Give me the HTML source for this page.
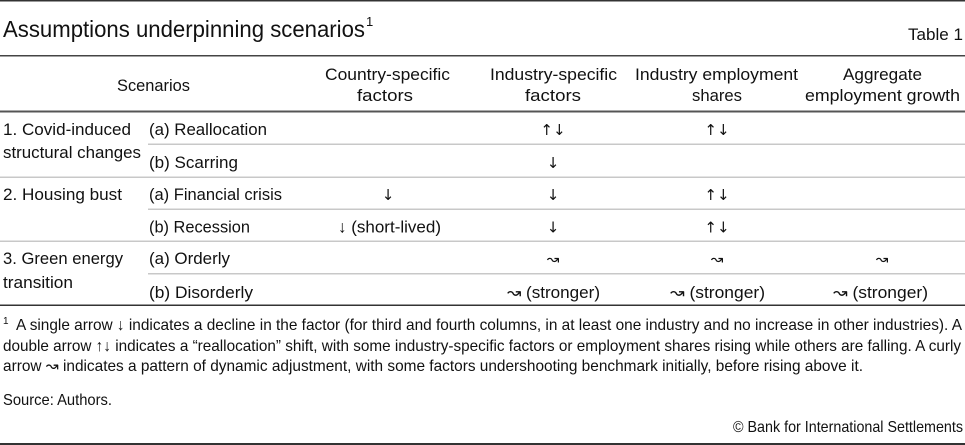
<!DOCTYPE html>
<html>
<head>
<meta charset="utf-8">
<style>
  html, body { margin: 0; padding: 0; background: #fff; }
  body { width: 965px; height: 445px; overflow: hidden; }
  svg { display: block; }
  text { font-family: "Liberation Sans", "DejaVu Sans", sans-serif; fill: #111; }
  .b { font-size: 17px; }
  .f { font-size: 16px; }
  .a { font-family: "DejaVu Sans", "Liberation Sans", sans-serif; font-size: 15px; }
</style>
</head>
<body>
<svg width="965" height="445" viewBox="0 0 965 445" xmlns="http://www.w3.org/2000/svg">
  <!-- rules -->
  <rect x="0" y="0" width="965" height="1.5" fill="#333"/>
  <rect x="0" y="55" width="965" height="1.5" fill="#444"/>
  <rect x="0" y="110.5" width="965" height="2" fill="#555"/>
  <rect x="148" y="143.5" width="817" height="1.5" fill="#c8c8c8"/>
  <rect x="0" y="176.5" width="965" height="1.5" fill="#c8c8c8"/>
  <rect x="148" y="208.5" width="817" height="1.5" fill="#c8c8c8"/>
  <rect x="0" y="240.5" width="965" height="1.5" fill="#c8c8c8"/>
  <rect x="148" y="273" width="817" height="1.5" fill="#c8c8c8"/>
  <rect x="0" y="304.5" width="965" height="1.5" fill="#333"/>
  <rect x="0" y="443" width="965" height="2" fill="#333"/>

  <!-- title -->
  <text x="3" y="37" style="font-size:23px" textLength="362" lengthAdjust="spacingAndGlyphs">Assumptions underpinning scenarios</text>
  <text x="366" y="26" style="font-size:13px">1</text>
  <text x="908" y="40" class="b" textLength="55" lengthAdjust="spacingAndGlyphs">Table 1</text>

  <!-- header -->
  <text x="117" y="91" class="b" textLength="73" lengthAdjust="spacingAndGlyphs">Scenarios</text>
  <text x="325" y="80" class="b" textLength="125" lengthAdjust="spacingAndGlyphs">Country-specific</text>
  <text x="357" y="101" class="b" textLength="56" lengthAdjust="spacingAndGlyphs">factors</text>
  <text x="490" y="80" class="b" textLength="127" lengthAdjust="spacingAndGlyphs">Industry-specific</text>
  <text x="525" y="101" class="b" textLength="56" lengthAdjust="spacingAndGlyphs">factors</text>
  <text x="635" y="80" class="b" textLength="163" lengthAdjust="spacingAndGlyphs">Industry employment</text>
  <text x="692" y="101" class="b" textLength="50" lengthAdjust="spacingAndGlyphs">shares</text>
  <text x="843" y="80" class="b" textLength="79" lengthAdjust="spacingAndGlyphs">Aggregate</text>
  <text x="805" y="101" class="b" textLength="155" lengthAdjust="spacingAndGlyphs">employment growth</text>

  <!-- row labels -->
  <text x="3" y="135" class="b" textLength="128" lengthAdjust="spacingAndGlyphs">1. Covid-induced</text>
  <text x="3" y="158" class="b" textLength="138" lengthAdjust="spacingAndGlyphs">structural changes</text>
  <text x="149" y="135" class="b" textLength="118" lengthAdjust="spacingAndGlyphs">(a) Reallocation</text>
  <text x="149" y="168" class="b" textLength="89" lengthAdjust="spacingAndGlyphs">(b) Scarring</text>
  <text x="3" y="200" class="b" textLength="119" lengthAdjust="spacingAndGlyphs">2. Housing bust</text>
  <text x="149" y="200" class="b" textLength="133" lengthAdjust="spacingAndGlyphs">(a) Financial crisis</text>
  <text x="149" y="232.5" class="b" textLength="101" lengthAdjust="spacingAndGlyphs">(b) Recession</text>
  <text x="3" y="264" class="b" textLength="120" lengthAdjust="spacingAndGlyphs">3. Green energy</text>
  <text x="3" y="288" class="b" textLength="70" lengthAdjust="spacingAndGlyphs">transition</text>
  <text x="149" y="264" class="b" textLength="81" lengthAdjust="spacingAndGlyphs">(a) Orderly</text>
  <text x="149" y="298" class="b" textLength="104" lengthAdjust="spacingAndGlyphs">(b) Disorderly</text>

  <!-- cells -->
  <text x="553" y="135" class="a" text-anchor="middle">↑↓</text>
  <text x="717" y="135" class="a" text-anchor="middle">↑↓</text>
  <text x="553" y="168" class="a" text-anchor="middle">↓</text>
  <text x="388" y="200" class="a" text-anchor="middle">↓</text>
  <text x="553" y="200" class="a" text-anchor="middle">↓</text>
  <text x="717" y="200" class="a" text-anchor="middle">↑↓</text>
  <text x="338" y="232.5" class="b" textLength="103" lengthAdjust="spacingAndGlyphs">↓ (short-lived)</text>
  <text x="553" y="232.5" class="a" text-anchor="middle">↓</text>
  <text x="717" y="232.5" class="a" text-anchor="middle">↑↓</text>
  <text x="553" y="264" class="a" text-anchor="middle">↝</text>
  <text x="717" y="264" class="a" text-anchor="middle">↝</text>
  <text x="882" y="264" class="a" text-anchor="middle">↝</text>
  <text x="507" y="298" class="b" textLength="93" lengthAdjust="spacingAndGlyphs">↝ (stronger)</text>
  <text x="670" y="298" class="b" textLength="95" lengthAdjust="spacingAndGlyphs">↝ (stronger)</text>
  <text x="833" y="298" class="b" textLength="95" lengthAdjust="spacingAndGlyphs">↝ (stronger)</text>

  <!-- footnote -->
  <text x="3" y="324" style="font-size:10px">1</text>
  <text x="16" y="330" class="f" textLength="946" lengthAdjust="spacingAndGlyphs">A single arrow ↓ indicates a decline in the factor (for third and fourth columns, in at least one industry and no increase in other industries). A</text>
  <text x="3" y="351" class="f" textLength="958" lengthAdjust="spacingAndGlyphs">double arrow ↑↓ indicates a “reallocation” shift, with some industry-specific factors or employment shares rising while others are falling. A curly</text>
  <text x="3" y="371" class="f" textLength="860" lengthAdjust="spacingAndGlyphs">arrow ↝ indicates a pattern of dynamic adjustment, with some factors undershooting benchmark initially, before rising above it.</text>
  <text x="3" y="405" class="f" textLength="109" lengthAdjust="spacingAndGlyphs">Source: Authors.</text>
  <text x="733" y="432" class="f" textLength="230" lengthAdjust="spacingAndGlyphs">© Bank for International Settlements</text>
</svg>
</body>
</html>
